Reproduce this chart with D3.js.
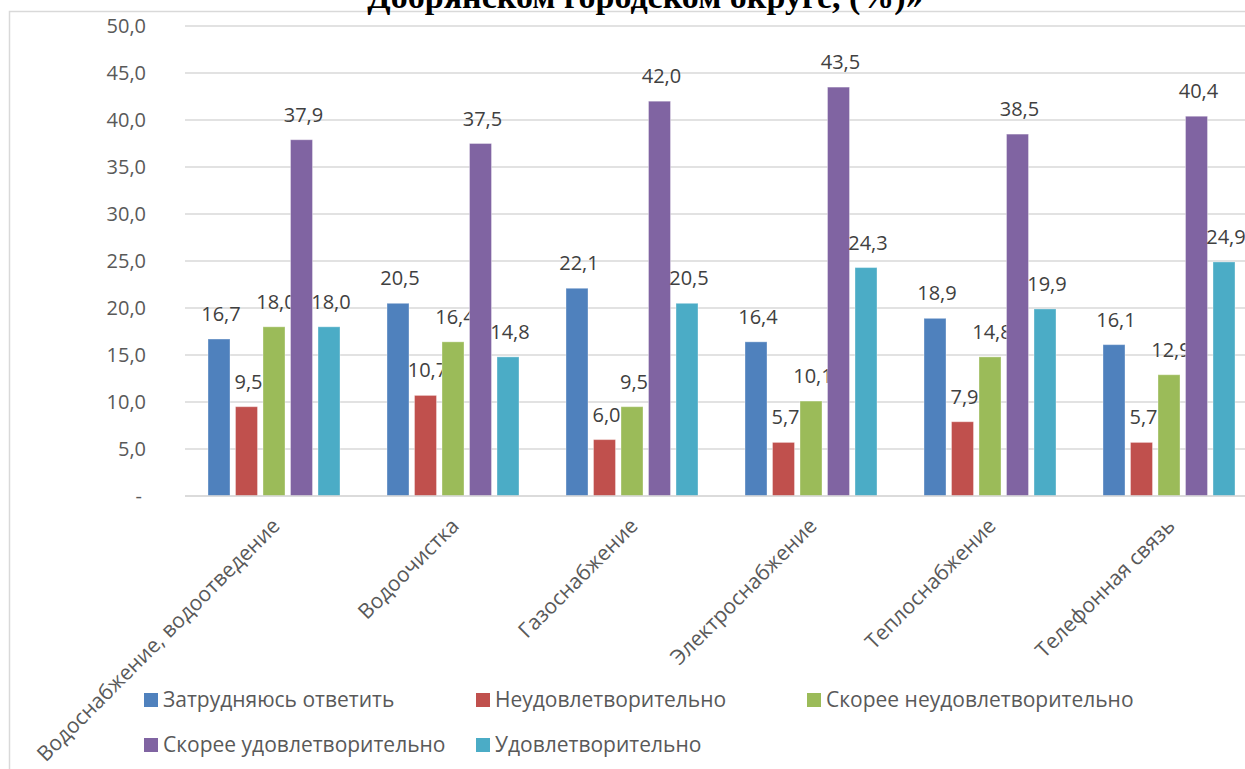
<!DOCTYPE html>
<html>
<head>
<meta charset="utf-8">
<script src="https://cdn.jsdelivr.net/npm/d3@7/dist/d3.min.js"></script>
<style>
  html, body { margin: 0; padding: 0; background: #fff; }
  svg { display: block; }
  text { font-family: "Open Sans", "Noto Sans", sans-serif; }
</style>
</head>
<body>
<svg id="chart" width="1245" height="769"></svg>
<script>
const title = "Добрянском городском округе, (%)»";
const categories = ["Водоснабжение, водоотведение", "Водоочистка", "Газоснабжение", "Электроснабжение", "Теплоснабжение", "Телефонная связь"];
const seriesNames = ["Затрудняюсь ответить", "Неудовлетворительно", "Скорее неудовлетворительно", "Скорее удовлетворительно", "Удовлетворительно"];
const seriesColors = ["#4F81BD", "#C0504D", "#9BBB59", "#8064A2", "#4BACC6"];
const values = [
  [16.7, 20.5, 22.1, 16.4, 18.9, 16.1],
  [9.5, 10.7, 6.0, 5.7, 7.9, 5.7],
  [18.0, 16.4, 9.5, 10.1, 14.8, 12.9],
  [37.9, 37.5, 42.0, 43.5, 38.5, 40.4],
  [18.0, 14.8, 20.5, 24.3, 19.9, 24.9]
];
const yTicks = [0, 5, 10, 15, 20, 25, 30, 35, 40, 45, 50];

const svg = d3.select("#chart");
const locale = d3.formatLocale({decimal: ",", thousands: " ", grouping: [3], currency: ["", ""]});
const fmt = locale.format(".1f");

// chart border
svg.append("rect")
  .attr("x", 9.5).attr("y", 11.5)
  .attr("width", 1300).attr("height", 800)
  .attr("fill", "none").attr("stroke", "#d9d9d9").attr("stroke-width", 1.5);

// title (cut off at top, as in the reference)
svg.append("text")
  .attr("x", 645).attr("y", 8)
  .attr("text-anchor", "middle")
  .style("font-family", "'Liberation Serif', 'Times New Roman', serif")
  .style("font-weight", "bold")
  .style("font-size", "34px")
  .attr("fill", "#000")
  .text(title);

const x0 = d3.scaleBand().domain(categories).range([184.5, 1258.5]).padding(0);
const x1 = d3.scaleBand().domain(d3.range(seriesNames.length)).range([23.5, 155.5]).paddingInner(0.2).paddingOuter(0);
const y = d3.scaleLinear().domain([0, 50]).range([496, 26]);

// gridlines
svg.append("g").selectAll("line").data(yTicks).join("line")
  .attr("x1", 185).attr("x2", 1245)
  .attr("y1", d => y(d)).attr("y2", d => y(d))
  .attr("stroke", "#d9d9d9").attr("stroke-width", 1.5);

// y axis labels
const yAxis = d3.axisLeft(y).tickValues(yTicks).tickSize(0).tickPadding(0)
  .tickFormat(d => d === 0 ? "-" : fmt(d));
const gy = svg.append("g").attr("transform", "translate(146,0)").call(yAxis);
gy.select(".domain").remove();
gy.selectAll("text")
  .style("font-family", "'Open Sans', sans-serif")
  .style("font-size", "20px").attr("fill", "#595959");
gy.selectAll(".tick").filter(d => d === 0).select("text").attr("dx", -4);

// bars
const groups = svg.append("g").selectAll("g").data(categories).join("g")
  .attr("transform", d => `translate(${x0(d)},0)`);
groups.each(function(cat, ci) {
  const g = d3.select(this);
  seriesNames.forEach((s, si) => {
    const v = values[si][ci];
    g.append("rect")
      .attr("x", x1(si)).attr("width", x1.bandwidth())
      .attr("y", y(v)).attr("height", y(0) - y(v))
      .attr("fill", seriesColors[si])
      .attr("stroke", "#ffffff").attr("stroke-opacity", 0.35).attr("stroke-width", 1);
    g.append("text")
      .attr("x", x1(si) + x1.bandwidth() / 2 + 2)
      .attr("y", y(v) - 18)
      .attr("text-anchor", "middle")
      .style("font-size", "20px")
      .attr("fill", "#404040")
      .text(fmt(v));
  });
});

// x axis baseline
svg.append("line").attr("x1", 185).attr("x2", 1245).attr("y1", 496).attr("y2", 496)
  .attr("stroke", "#d9d9d9").attr("stroke-width", 1.5);

// x labels
svg.append("g").selectAll("text").data(categories).join("text")
  .attr("transform", d => `translate(${x0(d) + x0.bandwidth() / 2 + 2},${522}) rotate(-45)`)
  .attr("text-anchor", "end")
  .attr("dy", "0.35em")
  .style("font-size", "21px")
  .attr("fill", "#595959")
  .text(d => d);

// legend
const legendPos = [[144, 700], [476, 700], [807, 700], [144, 745], [476, 745]];
const lg = svg.append("g").selectAll("g").data(seriesNames).join("g")
  .attr("transform", (d, i) => `translate(${legendPos[i][0]},${legendPos[i][1]})`);
lg.append("rect").attr("x", 0).attr("y", -7).attr("width", 14).attr("height", 14)
  .attr("fill", (d, i) => seriesColors[i]);
lg.append("text").attr("x", 19).attr("y", 0).attr("dy", "0.35em")
  .style("font-size", "21px").attr("fill", "#595959")
  .text(d => d);
</script>
</body>
</html>
